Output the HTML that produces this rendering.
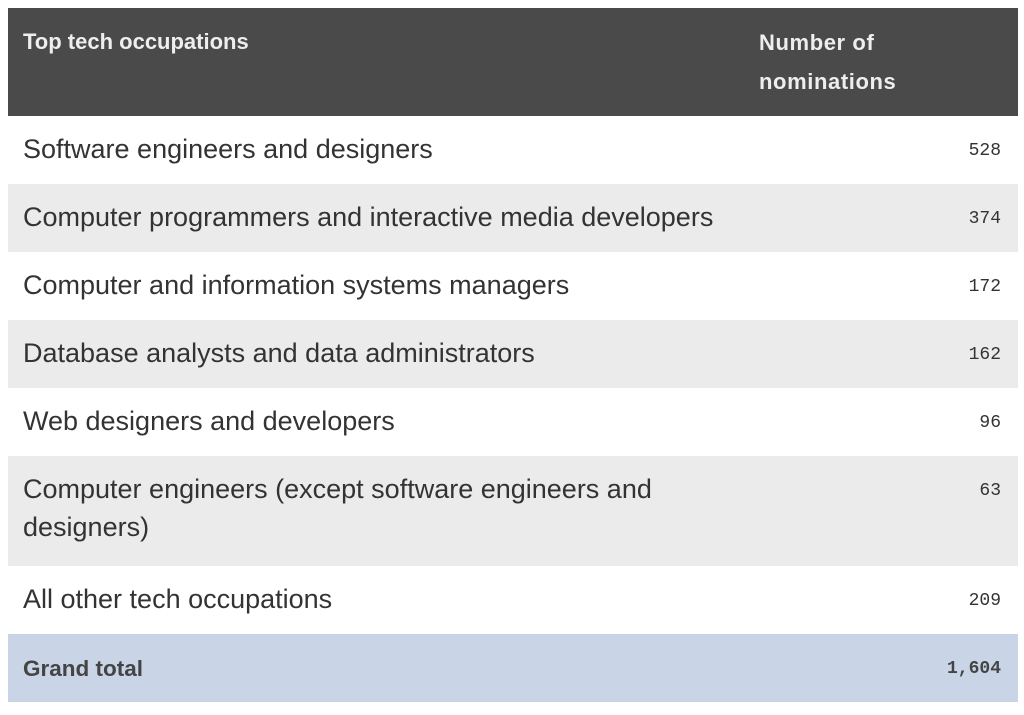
<!DOCTYPE html>
<html><head><style>
body{margin:0;background:#fff;width:1024px;height:715px;overflow:hidden;font-family:"Liberation Sans",sans-serif;}
.t{position:absolute;left:8px;top:8px;width:1010px;}
.r{position:relative;height:68px;}
.h{height:108px;background:#4a4a4a;color:#eeeeee;font-weight:bold;font-size:22px;}
.g{background:#ebebeb;}
.l{position:absolute;left:15px;top:14px;font-size:27px;color:#333;line-height:38px;}
.n{position:absolute;right:17px;top:25px;font-family:"Liberation Mono",monospace;font-size:18px;color:#333;}
.tot{background:#c9d5e7;}
</style></head><body>
<div class="t">
<div class="r h"><div style="position:absolute;left:15px;top:21px">Top tech occupations</div><div style="position:absolute;left:751px;top:15px;line-height:39px;letter-spacing:0.6px">Number of<br>nominations</div></div>
<div class="r"><div class="l">Software engineers and designers</div><div class="n">528</div></div>
<div class="r g"><div class="l">Computer programmers and interactive media developers</div><div class="n">374</div></div>
<div class="r"><div class="l">Computer and information systems managers</div><div class="n">172</div></div>
<div class="r g"><div class="l">Database analysts and data administrators</div><div class="n">162</div></div>
<div class="r"><div class="l">Web designers and developers</div><div class="n">96</div></div>
<div class="r g" style="height:110px"><div class="l">Computer engineers (except software engineers and<br>designers)</div><div class="n">63</div></div>
<div class="r"><div class="l">All other tech occupations</div><div class="n">209</div></div>
<div class="r tot"><div class="l" style="top:16px;font-size:22.5px;font-weight:bold;color:#444">Grand total</div><div class="n" style="font-weight:bold;color:#444">1,604</div></div>
</div>
</body></html>
